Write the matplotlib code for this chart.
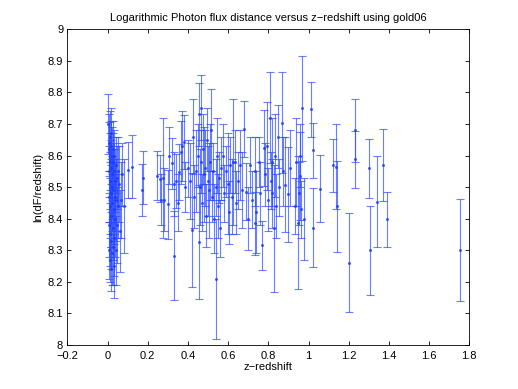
import numpy as np
import matplotlib
matplotlib.use('Agg')
import matplotlib.pyplot as plt
from matplotlib.ticker import FuncFormatter

# low redshift cluster
z_low = [0.004, 0.005, 0.006, 0.007, 0.008, 0.009, 0.009, 0.010, 0.011, 0.012, 0.012, 0.013,
         0.014, 0.015, 0.015, 0.016, 0.017, 0.018, 0.019, 0.019, 0.020, 0.021, 0.022, 0.023,
         0.024, 0.025, 0.026, 0.027, 0.028, 0.029, 0.030, 0.031, 0.032, 0.033, 0.034, 0.036,
         0.037, 0.039, 0.040, 0.042, 0.044, 0.046, 0.049, 0.051, 0.054, 0.058, 0.062, 0.067,
         0.072, 0.083, 0.100, 0.122, 0.171, 0.174]
f_low = [8.70, 8.55, 8.64, 8.30, 8.47, 8.62, 8.38, 8.52, 8.66, 8.27, 8.44, 8.58,
         8.35, 8.63, 8.48, 8.24, 8.56, 8.41, 8.67, 8.33, 8.50, 8.60, 8.29, 8.45,
         8.54, 8.37, 8.62, 8.31, 8.49, 8.58, 8.25, 8.43, 8.55, 8.34, 8.60, 8.47,
         8.52, 8.40, 8.57, 8.30, 8.46, 8.53, 8.38, 8.55, 8.44, 8.51, 8.36, 8.46,
         8.54, 8.44, 8.554, 8.564, 8.49, 8.53]
e_low = [0.095, 0.08, 0.09, 0.09, 0.08, 0.085, 0.10, 0.09, 0.08, 0.07, 0.09, 0.09,
         0.10, 0.08, 0.09, 0.07, 0.09, 0.10, 0.08, 0.09, 0.10, 0.09, 0.10, 0.09,
         0.08, 0.10, 0.09, 0.12, 0.10, 0.09, 0.10, 0.11, 0.09, 0.12, 0.08, 0.11,
         0.10, 0.12, 0.09, 0.11, 0.13, 0.10, 0.12, 0.11, 0.10, 0.12, 0.13, 0.12,
         0.10, 0.15, 0.09, 0.10, 0.083, 0.083]

# intermediate redshift
z_mid = [0.246, 0.259, 0.264, 0.276, 0.283, 0.300, 0.307, 0.319, 0.329, 0.331, 0.342, 0.350,
         0.356, 0.364, 0.369, 0.379, 0.385, 0.400, 0.409, 0.420, 0.425, 0.430, 0.440, 0.450,
         0.455, 0.457, 0.462, 0.465, 0.467, 0.470, 0.475, 0.480, 0.485, 0.490, 0.495, 0.500,
         0.505, 0.510, 0.517, 0.520, 0.525, 0.530, 0.538, 0.540, 0.545, 0.550, 0.555, 0.560,
         0.565, 0.575, 0.580, 0.590, 0.600, 0.605, 0.610, 0.620, 0.625, 0.633, 0.640, 0.650,
         0.658, 0.671, 0.678, 0.688, 0.700, 0.708, 0.720, 0.733, 0.735, 0.740, 0.754, 0.760,
         0.771, 0.778, 0.785, 0.794, 0.800, 0.807, 0.812, 0.816, 0.820, 0.827, 0.832, 0.840,
         0.849, 0.855, 0.870, 0.875, 0.882, 0.898, 0.910, 0.935, 0.940, 0.948, 0.953, 0.957,
         0.960, 0.965, 0.970, 0.977]
f_mid = [8.536, 8.527, 8.46, 8.53, 8.46, 8.445, 8.60, 8.575, 8.283, 8.51, 8.52, 8.45,
         8.548, 8.61, 8.63, 8.643, 8.50, 8.56, 8.52, 8.364, 8.66, 8.47, 8.55, 8.60,
         8.327, 8.73, 8.50, 8.58, 8.752, 8.45, 8.62, 8.54, 8.56, 8.41, 8.65, 8.52,
         8.49, 8.58, 8.68, 8.47, 8.55, 8.40, 8.21, 8.50, 8.60, 8.44, 8.53, 8.37,
         8.56, 8.60, 8.48, 8.55, 8.51, 8.42, 8.57, 8.47, 8.58, 8.58, 8.45, 8.52,
         8.57, 8.49, 8.684, 8.485, 8.40, 8.57, 8.46, 8.385, 8.55, 8.42, 8.58, 8.48,
         8.316, 8.624, 8.54, 8.63, 8.46, 8.72, 8.52, 8.58, 8.48, 8.369, 8.60, 8.44,
         8.66, 8.50, 8.704, 8.55, 8.508, 8.477, 8.56, 8.44, 8.58, 8.387, 8.48, 8.536,
         8.60, 8.43, 8.749, 8.40]
e_mid = [0.078, 0.075, 0.08, 0.19, 0.10, 0.11, 0.09, 0.08, 0.14, 0.10, 0.085, 0.09,
         0.09, 0.10, 0.11, 0.085, 0.08, 0.09, 0.12, 0.18, 0.12, 0.10, 0.13, 0.10,
         0.18, 0.10, 0.12, 0.10, 0.104, 0.09, 0.11, 0.15, 0.12, 0.10, 0.10, 0.11,
         0.15, 0.12, 0.13, 0.08, 0.09, 0.11, 0.19, 0.09, 0.12, 0.10, 0.08, 0.09,
         0.10, 0.10, 0.09, 0.08, 0.16, 0.10, 0.09, 0.12, 0.20, 0.10, 0.10, 0.09,
         0.11, 0.12, 0.09, 0.09, 0.10, 0.09, 0.09, 0.10, 0.11, 0.13, 0.08, 0.10,
         0.077, 0.12, 0.10, 0.14, 0.10, 0.145, 0.09, 0.14, 0.11, 0.20, 0.13, 0.10,
         0.10, 0.09, 0.16, 0.11, 0.15, 0.15, 0.12, 0.09, 0.14, 0.21, 0.10, 0.14,
         0.10, 0.09, 0.165, 0.13]

# high redshift
z_high = [1.010, 1.020, 1.022, 1.056, 1.120, 1.139, 1.142, 1.200, 1.230, 1.232, 1.300, 1.305,
          1.340, 1.370, 1.390, 1.755]
f_high = [8.746, 8.617, 8.372, 8.495, 8.569, 8.565, 8.44, 8.261, 8.68, 8.588, 8.559, 8.30,
          8.454, 8.57, 8.398, 8.30]
e_high = [0.087, 0.087, 0.125, 0.107, 0.084, 0.134, 0.144, 0.157, 0.10, 0.09, 0.093, 0.14,
          0.143, 0.115, 0.088, 0.162]

z = np.array(z_low + z_mid + z_high)
lnf = np.array(f_low + f_mid + f_high)
err = np.array(e_low + e_mid + e_high)

plt.rcParams['font.family'] = ['Liberation Sans', 'DejaVu Sans']
plt.rcParams['font.size'] = 8

fig = plt.figure(figsize=(5.18, 3.89), dpi=100)
ax = fig.add_axes([0.13, 0.113, 0.776, 0.812])

ax.errorbar(z, lnf, yerr=err, fmt='.', color='#1a3cff', ecolor='#2a4aff',
            elinewidth=0.8, capsize=2.6, capthick=0.8, markersize=2.5, alpha=0.7)

ax.set_xlim(-0.2, 1.8)
ax.set_ylim(8, 9)
ax.set_xticks(np.arange(-0.2, 1.81, 0.2))
ax.set_yticks(np.arange(8, 9.01, 0.1))
fmt = FuncFormatter(lambda v, p: ('%g' % round(v, 2)).replace('-', '\u2212'))
ax.xaxis.set_major_formatter(fmt)
ax.yaxis.set_major_formatter(fmt)
ax.tick_params(direction='in', top=True, right=True, length=3, width=0.6, pad=3)
ax.tick_params(axis='x', pad=4)
for s in ax.spines.values():
    s.set_linewidth(0.6)

ax.set_title('Logarithmic Photon flux distance versus z\u2212redshift using gold06', fontsize=8, pad=6)
ax.set_xlabel('z\u2212redshift', labelpad=1)
ax.set_ylabel('ln(dF/redshift)', labelpad=3)

fig.savefig('out.png', dpi=100)
